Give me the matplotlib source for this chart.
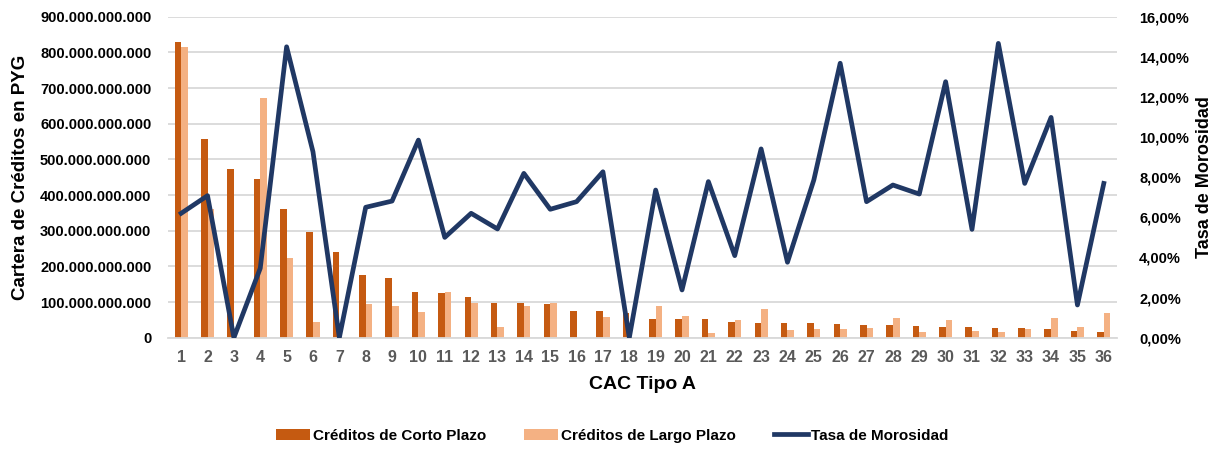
import numpy as np
import matplotlib.pyplot as plt
from matplotlib.ticker import FuncFormatter, MultipleLocator

plt.rcParams['font.family'] = ['Liberation Sans Narrow', 'Liberation Sans', 'DejaVu Sans']
plt.rcParams['font.weight'] = 'bold'
plt.rcParams['axes.labelweight'] = 'bold'

# datos (miles de millones de PYG y % de morosidad)
cac = [str(i) for i in range(1, 37)]
corto = [830, 558, 474, 444, 362, 295, 240, 175, 168, 129, 124, 114, 98, 96,
         95, 74, 74, 68, 53, 53, 52, 43, 41, 41, 41, 38, 35, 35, 33, 30,
         30, 27, 27, 24, 20, 15]
largo = [814, 360, 0, 673, 224, 44, 0, 95, 90, 73, 129, 98, 31, 90,
         96, 0, 58, 0, 90, 61, 13, 50, 81, 22, 25, 25, 27, 55, 15, 49,
         20, 17, 24, 55, 30, 68]
morosidad = [6.20, 7.08, 0.0, 3.46, 14.50, 9.27, 0.0, 6.50, 6.81, 9.85,
             5.00, 6.20, 5.42, 8.19, 6.40, 6.78, 8.27, 0.0, 7.36, 2.38,
             7.78, 4.09, 9.41, 3.76, 7.86, 13.68, 6.78, 7.61, 7.16, 12.76,
             5.40, 14.67, 7.69, 10.98, 1.63, 7.69]

c_corto = '#C55A11'
c_largo = '#F4B183'
c_linea = '#203864'

fig = plt.figure(figsize=(12.12, 4.54), dpi=100)
ax = fig.add_axes([0.1386, 0.2562, 0.7830, 0.7070])
ax2 = ax.twinx()

x = np.arange(len(cac))
w = 0.25
ax.bar(x - w / 2, np.array(corto) * 1e9, w, color=c_corto, label='Créditos de Corto Plazo', zorder=2)
ax.bar(x + w / 2, np.array(largo) * 1e9, w, color=c_largo, label='Créditos de Largo Plazo', zorder=2)
ax2.plot(x, morosidad, color=c_linea, lw=3.4, label='Tasa de Morosidad', zorder=3)

ax.set_xlim(-0.5, len(cac) - 0.5)
ax.set_ylim(0, 900e9)
ax.yaxis.set_major_locator(MultipleLocator(100e9))
ax.yaxis.set_major_formatter(FuncFormatter(lambda v, p: f'{v:,.0f}'.replace(',', '.')))
ax2.set_ylim(0, 16)
ax2.yaxis.set_major_locator(MultipleLocator(2))
ax2.yaxis.set_major_formatter(FuncFormatter(lambda v, p: f'{v:.2f}%'.replace('.', ',')))

ax.set_xticks(x)
ax.set_xticklabels(cac)
ax.grid(axis='y', color='#D9D9D9', lw=1.3, zorder=0)
ax.set_axisbelow(True)
for a in (ax, ax2):
    for s in a.spines.values():
        s.set_visible(False)
    a.tick_params(length=0)
ax.spines['bottom'].set_visible(True)
ax.spines['bottom'].set_color('#D9D9D9')
ax.spines['bottom'].set_linewidth(1.3)

ax.tick_params(axis='x', labelsize=11.5, colors='#595959', pad=9)
ax.tick_params(axis='y', labelsize=10.5, colors='black', pad=12)
ax2.tick_params(axis='y', labelsize=10.5, colors='black', pad=16)

ax.set_xlabel('CAC Tipo A', fontsize=14, labelpad=8)
ax.set_ylabel('Cartera de Créditos en PYG', fontsize=13.5, labelpad=8)
ax2.set_ylabel('Tasa de Morosidad', fontsize=13, labelpad=5)

h1, l1 = ax.get_legend_handles_labels()
h2, l2 = ax2.get_legend_handles_labels()
fig.legend(h1 + h2, l1 + l2, loc='lower center', bbox_to_anchor=(0.505, -0.005), ncol=3,
           frameon=False, fontsize=11, columnspacing=2.5, handlelength=2.2, handletextpad=0.2)

fig.savefig('out.png', dpi=100)
